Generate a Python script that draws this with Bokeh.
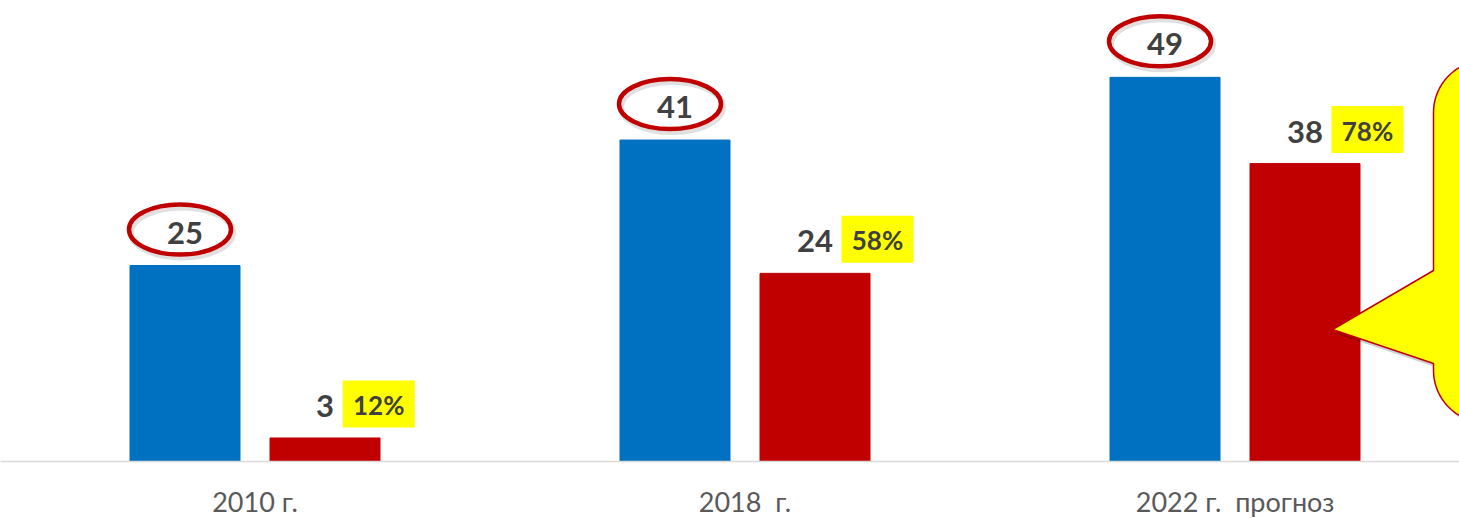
import numpy as np
from bokeh.plotting import figure
from bokeh.models import Range1d, FixedTicker
from bokeh.core.properties import value
from bokeh.embed import file_html
from bokeh.resources import INLINE

# ---------------- data ----------------
categories = ["2010 г.", "2018  г.", "2022 г.  прогноз"]
total_values = [25, 41, 49]
part_values = [3, 24, 38]
share_labels = ["12%", "58%", "78%"]

# ---------------- geometry / style ----------------
BLUE = "#0070C0"
RED = "#C00000"
YELLOW = "#FFFF00"
LABEL = "#404040"
FONT = "Lato"

FRAME_W = 1459
FRAME_H = 461
PX_PER_CAT = 490.0
PX_PER_UNIT = 7.84
PAGE_LEFT = 0
PAGE_TOP = 0
FIRST_CENTER_PX = 254.5

x_start = 0.5 - (FIRST_CENTER_PX - PAGE_LEFT) / PX_PER_CAT
x_end = x_start + FRAME_W / PX_PER_CAT
y_end = FRAME_H / PX_PER_UNIT
BASE_PX = PAGE_TOP + FRAME_H


def px_to_x(px):
    return x_start + (px - PAGE_LEFT) / PX_PER_CAT


def px_to_y(py):
    return (BASE_PX - py) / PX_PER_UNIT


dodge = 70.0 / PX_PER_CAT
bar_w = 110.0 / PX_PER_CAT

centers = np.arange(len(categories)) + 0.5
x_blue = centers - dodge
x_red = centers + dodge

p = figure(
    frame_width=FRAME_W,
    frame_height=FRAME_H,
    x_range=Range1d(x_start, x_end),
    y_range=Range1d(0, y_end),
    output_backend="svg",
    toolbar_location=None,
    min_border=0,
    outline_line_color=None,
    background_fill_color="white",
    border_fill_color="white",
)
p.xgrid.visible = False
p.ygrid.visible = False
p.yaxis.visible = False

ax = p.xaxis[0]
ax.ticker = FixedTicker(ticks=list(centers))
# keep the double spaces visible (SVG collapses plain repeated spaces)
ax.major_label_overrides = {float(c): lab.replace("  ", " \u00a0")
                            for c, lab in zip(centers, categories)}
ax.major_tick_line_color = None
ax.minor_tick_line_color = None
ax.major_tick_out = 0
ax.major_tick_in = 0
ax.axis_line_color = "#D9D9D9"
ax.axis_line_width = 1.5
ax.major_label_text_font = FONT
ax.major_label_text_font_size = "27px"
ax.major_label_text_color = "#595959"
ax.major_label_standoff = 23

# bars
p.vbar(x=x_blue, top=total_values, width=bar_w, bottom=0,
       fill_color=BLUE, line_color=BLUE)
p.vbar(x=x_red, top=part_values, width=bar_w, bottom=0,
       fill_color=RED, line_color=RED)

# blue labels with red ellipses
ell_x = x_blue - 5.0 / PX_PER_CAT
ell_y = np.array(total_values) + 36.0 / PX_PER_UNIT
p.ellipse(x=ell_x + 2.0 / PX_PER_CAT, y=ell_y - 3.0 / PX_PER_UNIT,
          width=102, height=50, width_units="screen", height_units="screen",
          fill_color=None, line_color="black", line_alpha=0.12, line_width=6)
p.ellipse(x=ell_x, y=ell_y, width=102, height=50,
          width_units="screen", height_units="screen",
          fill_color=None, line_color=RED, line_width=4.5)
p.text(x=x_blue, y=total_values, text=[str(v) for v in total_values],
       y_offset=-33, text_align="center", text_baseline="middle",
       text_font=value(FONT), text_font_style="bold",
       text_font_size="31px", text_color=LABEL)

# red labels
p.text(x=x_red, y=part_values, text=[str(v) for v in part_values],
       y_offset=-32, text_align="center", text_baseline="middle",
       text_font=value(FONT), text_font_style="bold",
       text_font_size="31px", text_color=LABEL)

# share boxes
box_dx = np.array([9 + 8.75 * len(str(v)) + 36 for v in part_values]) / PX_PER_CAT
box_x = x_red + box_dx
box_y = np.array(part_values) + 34.0 / PX_PER_UNIT
p.rect(x=box_x, y=box_y, width=72, height=47,
       width_units="screen", height_units="screen",
       fill_color=YELLOW, line_color=None)
p.text(x=box_x, y=box_y, text=share_labels, text_align="center",
       text_baseline="middle", y_offset=1,
       text_font=value(FONT), text_font_style="bold",
       text_font_size="26px", text_color=LABEL)

# callout (speech bubble) at right edge
r = 52.0
left = 1433.0
top_c = (left + r, 60.0 + r)
bot_c = (left + r, 422.0 - r)
th_top = np.linspace(np.pi, 1.5 * np.pi, 20)
th_bot = np.linspace(0.5 * np.pi, np.pi, 20)
pts = [(1332.0, 329.0), (left, 270.0)]
pts += [(top_c[0] + r * np.cos(t), top_c[1] + r * np.sin(t)) for t in th_top]
pts += [(1520.0, 60.0), (1520.0, 422.0)]
pts += [(bot_c[0] + r * np.cos(t), bot_c[1] + r * np.sin(t)) for t in th_bot]
pts += [(left, 363.0)]
cx = np.array([px_to_x(a) for a, b in pts])
cy = np.array([px_to_y(b) for a, b in pts])
p.patch(cx + 3.0 / PX_PER_CAT, cy - 4.0 / PX_PER_UNIT,
        fill_color="black", fill_alpha=0.18, line_color=None)
p.patch(cx, cy, fill_color=YELLOW, line_color=RED, line_width=1.5)

open("out.html", "w").write(file_html(p, INLINE))
